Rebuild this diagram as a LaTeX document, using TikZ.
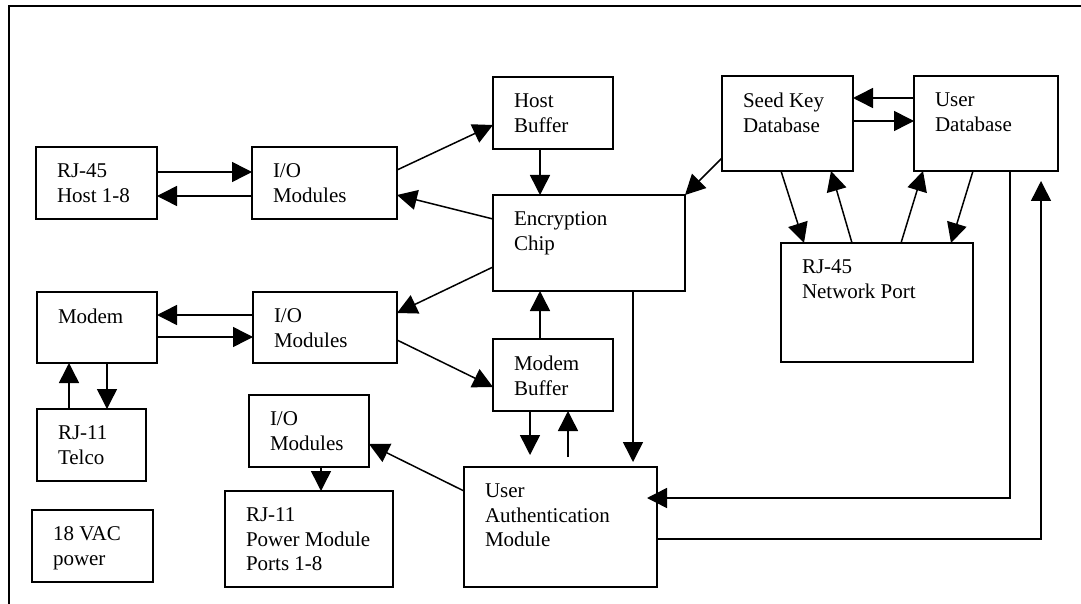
\documentclass[tikz,border=0pt]{standalone}
\usepackage{fontspec}
\setmainfont{Liberation Serif}
\usetikzlibrary{arrows.meta,calc}
\newcommand{\mybox}[6]{%
  \node[box, minimum width={#4-#2}, minimum height={#5-#3}] (#1) at ({(#2+#4)/2},{(#3+#5)/2}) {};
  \node[txt, anchor=north west] (#1-t) at ([xshift=21pt,yshift=-17pt]#1.north west) {#6};
}
\begin{document}
\begin{tikzpicture}[x=1pt,y=-1pt,
  box/.style={draw, line width=1.6pt, inner sep=0pt, outer sep=0pt, rectangle},
  txt/.style={inner sep=0pt, outer sep=0pt, align=left, font=\fontsize{21}{24.5}\selectfont},
  arr/.style={line width=1.5pt, -{Triangle[length=20pt,width=20pt]}},
  ln/.style={line width=1.5pt}]
\useasboundingbox (0,0) rectangle (1081,604);
\clip (0,0) rectangle (1081,604);
\fill[white] (0,0) rectangle (1081,604);
\draw[line width=1.6pt] (9,620) -- (9,6) -- (1095,6);

\mybox{host}{36}{147}{157}{219}{RJ-45\\Host 1-8}
\mybox{io1}{252}{147}{397}{219}{I/O\\Modules}
\mybox{hb}{493}{77}{613}{149}{Host\\Buffer}
\mybox{enc}{493}{195}{685}{291}{Encryption\\Chip}
\mybox{sk}{722}{76}{853}{171}{Seed Key\\Database}
\mybox{ud}{914}{76}{1058}{171}{User\\Database}
\mybox{np}{781}{243}{973}{362}{RJ-45\\Network Port}
\mybox{modem}{37}{292}{157}{363}{Modem}
\mybox{io2}{253}{292}{397}{363}{I/O\\Modules}
\mybox{telco}{37}{409}{146}{481}{RJ-11\\Telco}
\mybox{io3}{249}{395}{369}{467}{I/O\\Modules}
\mybox{pwr}{225}{491}{393}{587}{RJ-11\\Power Module\\Ports 1-8}
\mybox{vac}{32}{510}{153}{582}{18 VAC\\power}
\mybox{mb}{493}{339}{613}{411}{Modem\\Buffer}
\mybox{ua}{464}{467}{657}{587}{User\\Authentication\\Module}

% host <-> io1
\draw[arr] ([yshift=11pt]host.east) -- ([yshift=11pt]io1.west);
\draw[arr] ([yshift=-13pt]io1.west) -- ([yshift=-13pt]host.east);
% io1 -> host buffer, enc -> io1
\draw[arr] ([yshift=13pt]io1.east) -- ([yshift=-12pt]hb.west);
\draw[arr] ([yshift=24pt]enc.west) -- ([yshift=-12pt]io1.east);
% host buffer -> enc
\draw[arr] ([xshift=-13pt]hb.south) -- ([xshift=-49pt]enc.north);
% enc -> io2, io2 -> modem buffer
\draw[arr] ([yshift=-24pt]enc.west) -- ([yshift=14.5pt]io2.east);
\draw[arr] ([yshift=-12.5pt]io2.east) -- ([yshift=-12pt]mb.west);
% modem buffer -> enc
\draw[arr] ([xshift=-13pt]mb.north) -- ([xshift=-49pt]enc.south);
% enc -> ua
\draw[arr, shorten >=5pt] ([xshift=44pt]enc.south) -- ([xshift=72.5pt]ua.north);
% mb <-> ua
\draw[arr, shorten >=12pt] ([xshift=-23pt]mb.south) -- ([xshift=-30.5pt]ua.north);
\draw[arr, shorten <=10pt] ([xshift=7.5pt]ua.north) -- ([xshift=15pt]mb.south);
% ua -> io3, io3 -> power
\draw[arr] ([yshift=36pt]ua.west) -- ([yshift=-13pt]io3.east);
\draw[arr] ([xshift=12pt]io3.south) -- ([xshift=12pt]pwr.north);
% modem <-> io2
\draw[arr] ([yshift=12.5pt]io2.west) -- ([yshift=12.5pt]modem.east);
\draw[arr] ([yshift=-9.5pt]modem.east) -- ([yshift=-9.5pt]io2.west);
% telco <-> modem
\draw[arr] ([xshift=-22.5pt]telco.north) -- ([xshift=-28pt]modem.south);
\draw[arr] ([xshift=10pt]modem.south) -- ([xshift=15.5pt]telco.north);
% seed key -> enc
\draw[arr] ([yshift=13pt]sk.south west) -- (enc.north east);
% sk <-> ud
\draw[arr] ([yshift=25.5pt]ud.west) -- ([yshift=25.5pt]sk.east);
\draw[arr] ([yshift=2.5pt]sk.east) -- ([yshift=2.5pt]ud.west);
% sk/ud <-> network port
\draw[arr] ([xshift=-6.5pt]sk.south) -- ([xshift=-73pt]np.north);
\draw[arr] ([xshift=-25pt]np.north) -- ([xshift=43.5pt]sk.south);
\draw[arr] ([xshift=24pt]np.north) -- ([xshift=-63pt]ud.south);
\draw[arr] ([xshift=-13pt]ud.south) -- ([xshift=74pt]np.north);
% long connectors
\draw[arr] ([xshift=24pt]ud.south) |- ([xshift=-10pt,yshift=29pt]ua.east);
\draw[arr] ([yshift=-12pt]ua.east) -| ([xshift=55pt,yshift=-10pt]ud.south);
\end{tikzpicture}
\end{document}
